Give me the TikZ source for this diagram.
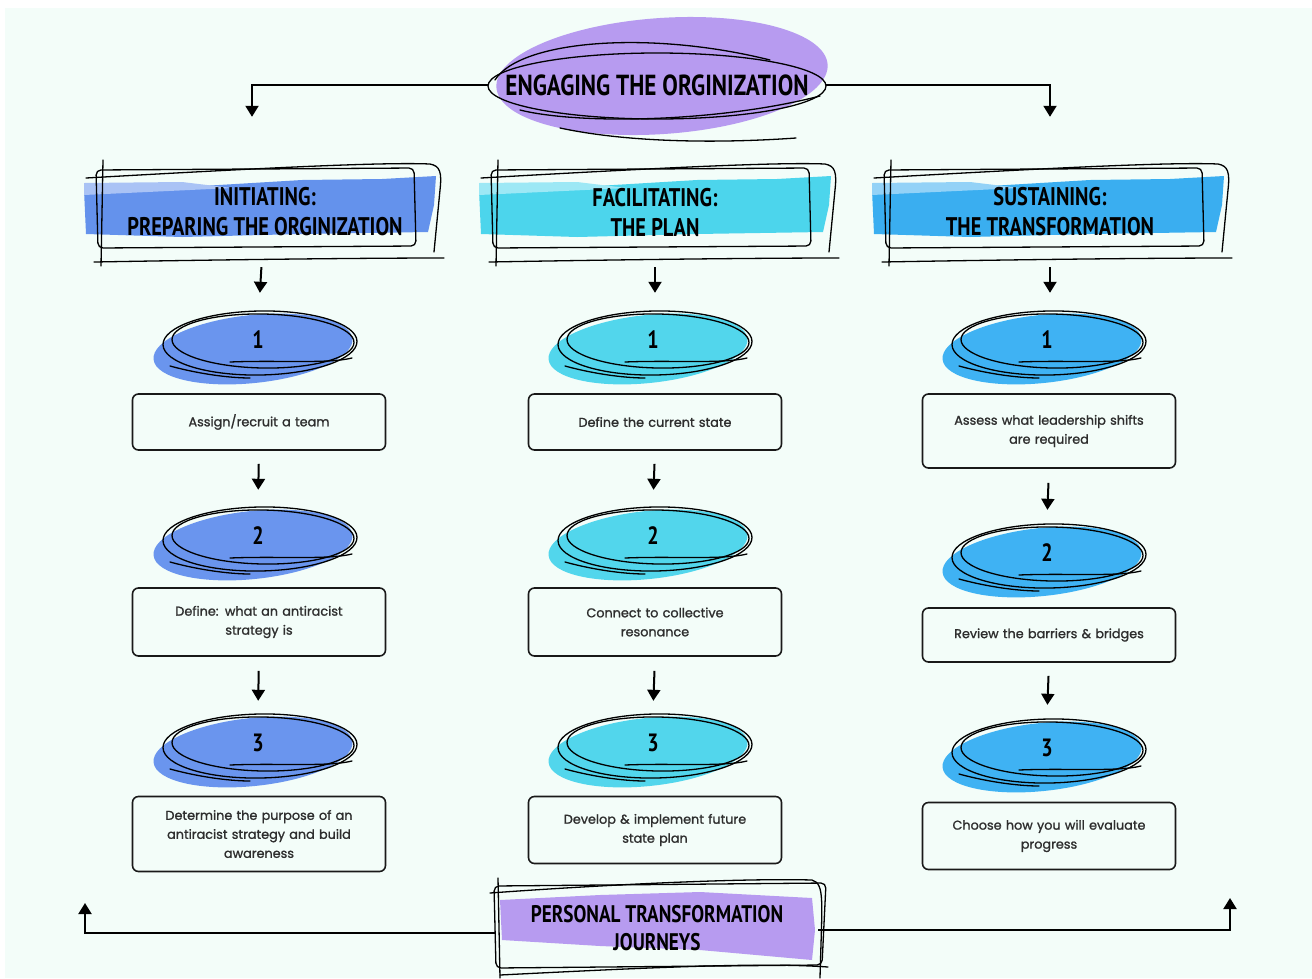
\documentclass[tikz,border=0pt]{standalone}
\usepackage{fontspec}
\setmainfont{Poppins}[FakeBold=1.3]
\newfontfamily\hand{PT Sans}[FakeStretch=0.8]
\usetikzlibrary{arrows.meta,shapes.geometric}
\definecolor{mint}{HTML}{F3FDF9}
\definecolor{cA}{HTML}{6A95EE}
\definecolor{cB}{HTML}{52D6EC}
\definecolor{cC}{HTML}{3FB2F3}
\definecolor{hA}{HTML}{6492EC}
\definecolor{hB}{HTML}{4CD5EC}
\definecolor{hC}{HTML}{3AAEF0}
\definecolor{pur}{HTML}{B79BF0}
\definecolor{txt}{HTML}{2E2E2E}
\tikzset{
  stepbox/.style={draw=black!90, rounded corners=6pt, line width=1.6pt, minimum width=253pt, align=center, text width=240pt, font=\fontsize{12.8}{19}\selectfont\color{txt}, inner sep=4pt},
  numnode/.style={ellipse, minimum width=196pt, minimum height=64pt, font=\hand\bfseries\fontsize{25}{25}\selectfont},
  headnode/.style={rectangle, minimum width=340pt, minimum height=90pt, align=center, font=\hand\bfseries\fontsize{25.5}{30}\selectfont},
  arr/.style={-{Triangle[length=11pt,width=13pt]}, line width=2pt},
  sk/.style={line width=1.3pt, line cap=round}
}
\newcommand\blobdeco[3]{%
  \begin{scope}[shift={(#1,#2)}]
    \fill[#3] (-5,9) ellipse [x radius=100, y radius=34, rotate=6];
    \draw[sk] (2,3) ellipse [x radius=97, y radius=32, rotate=1];
    \draw[sk] (5,1) ellipse [x radius=91, y radius=27, rotate=-1];
    \draw[sk] (-28,22) .. controls (20,20) and (70,24) .. (94,18);
    \draw[sk] (-88,26) .. controls (-55,35) and (-25,38) .. (-8,38);
  \end{scope}}
\newcommand\headdeco[3]{%
  \begin{scope}[shift={(#1,0)}]
    \fill[#2] (-178,190) -- (-140,184) -- (-60,186) -- (40,180) -- (120,179) -- (174,176) -- (172,205) -- (166,232) -- (40,234) -- (-80,237) -- (-176,234) -- cycle;
    \fill[#3] (-178,183) -- (-80,182) -- (-30,188) -- (-178,195) -- cycle;
    \draw[sk, rounded corners=5pt] (-166,170) -- (152,168) -- (154,246) -- (-164,248) -- cycle;
    \draw[sk] (-176,178) .. controls (0,168) and (120,162) .. (168,164) .. controls (178,166) and (180,172) .. (178,190) -- (172,252);
    \draw[sk] (-168,262) .. controls (0,259) and (120,258) .. (182,258);
    \draw[sk] (-159,160) -- (-161,266);
  \end{scope}}
\begin{document}
\begin{tikzpicture}[x=1pt,y=-1pt]
\useasboundingbox (0,0) rectangle (1312,978);
\fill[white] (0,0) rectangle (1312,978);
\fill[mint] (5,8) rectangle (1312,978);

% ---------- top title ----------
\fill[pur] (662,76) ellipse [x radius=166, y radius=58, rotate=4];
\draw[sk] (657,86) ellipse [x radius=169, y radius=33];
\draw[sk] (495,80) .. controls (520,40) and (650,30) .. (770,60);
\draw[sk] (520,110) .. controls (580,125) and (720,122) .. (820,96);
\draw[sk] (560,128) .. controls (640,145) and (740,142) .. (796,138);
\node[rectangle, inner sep=0pt, minimum width=338pt, minimum height=66pt, font=\hand\bfseries\fontsize{29}{29}\selectfont] (top) at (657,85) {ENGAGING THE ORGINIZATION};

% ---------- headers ----------
\headdeco{262}{hA}{hA!55!white}
\headdeco{657}{hB}{hB!55!white}
\headdeco{1050}{hC}{hC!55!white}
\node[headnode] (h1) at (265,212) {INITIATING:\\PREPARING THE ORGINIZATION};
\node[headnode] (h2) at (655,212) {FACILITATING:\\THE PLAN};
\node[headnode] (h3) at (1050,212) {SUSTAINING:\\THE TRANSFORMATION};

\draw[arr, shorten >=50pt] (top.west) -| ([xshift=-13pt]h1.north);
\draw[arr, shorten >=50pt] (top.east) -| (h3.north);

% ---------- column 1 ----------
\blobdeco{258}{340}{cA}
\blobdeco{258}{536}{cA}
\blobdeco{258}{743}{cA}
\node[numnode] (e11) at (258,340) {1};
\node[numnode] (e12) at (258,536) {2};
\node[numnode] (e13) at (258,743) {3};
\node[stepbox, minimum height=56pt] (b11) at (259,422) {Assign/recruit a team};
\node[stepbox, minimum height=68pt] (b12) at (259,622) {Define: what an antiracist\\strategy is};
\node[stepbox, minimum height=75pt] (b13) at (259,834) {Determine the purpose of an\\antiracist strategy and build\\awareness};

% ---------- column 2 ----------
\blobdeco{653}{340}{cB}
\blobdeco{653}{536}{cB}
\blobdeco{653}{743}{cB}
\node[numnode] (e21) at (653,340) {1};
\node[numnode] (e22) at (653,536) {2};
\node[numnode] (e23) at (653,743) {3};
\node[stepbox, minimum height=56pt] (b21) at (655,422) {Define the current state};
\node[stepbox, minimum height=68pt] (b22) at (655,622) {Connect to collective\\resonance};
\node[stepbox, minimum height=67pt] (b23) at (655,830) {Develop \& implement future\\state plan};

% ---------- column 3 ----------
\blobdeco{1047}{340}{cC}
\blobdeco{1047}{553}{cC}
\blobdeco{1047}{748}{cC}
\node[numnode] (e31) at (1047,340) {1};
\node[numnode] (e32) at (1047,553) {2};
\node[numnode] (e33) at (1047,748) {3};
\node[stepbox, minimum height=74pt] (b31) at (1049,431) {Assess what leadership shifts\\are required};
\node[stepbox, minimum height=54pt] (b32) at (1049,635) {Review the barriers \& bridges};
\node[stepbox, minimum height=67pt] (b33) at (1049,836) {Choose how you will evaluate\\progress};

% ---------- vertical arrows ----------
\draw[arr, shorten <=10pt, shorten >=15pt] ([xshift=-3pt]h1.south) -- ([xshift=1pt]e11.north);
\draw[arr, shorten <=10pt, shorten >=15pt] (h2.south) -- ([xshift=2pt]e21.north);
\draw[arr, shorten <=10pt, shorten >=15pt] (h3.south) -- ([xshift=3pt]e31.north);
\draw[arr, shorten <=13pt, shorten >=14pt] (b11.south) -- (e12.north);
\draw[arr, shorten <=14pt, shorten >=10pt] (b12.south) -- (e13.north);
\draw[arr, shorten <=13pt, shorten >=14pt] (b21.south) -- (e22.north);
\draw[arr, shorten <=14pt, shorten >=10pt] (b22.south) -- (e23.north);
\draw[arr, shorten <=14pt, shorten >=11pt] (b31.south) -- (e32.north);
\draw[arr, shorten <=13pt, shorten >=11pt] (b32.south) -- (e33.north);

% ---------- bottom ----------
\fill[pur] (500,900) -- (600,895) -- (700,892) -- (812,898) -- (815,930) -- (812,960) -- (700,950) -- (600,946) -- (502,940) -- cycle;
\draw[sk] (490,893) .. controls (600,885) and (740,878) .. (812,880) .. controls (825,884) and (822,900) .. (820,978);
\draw[sk, rounded corners=5pt] (494,886) -- (826,883) -- (822,965) -- (496,968) -- cycle;
\draw[sk] (500,975) .. controls (640,968) and (760,962) .. (828,967);
\draw[sk] (498,878) -- (500,978);
\node[rectangle, minimum width=322pt, minimum height=76pt, align=center, font=\hand\bfseries\fontsize{24}{28}\selectfont] (bot) at (657,928) {PERSONAL TRANSFORMATION\\JOURNEYS};
\coordinate (bl) at (85,903);
\coordinate (br) at (1230,898);
\draw[arr] ([yshift=-5pt]bot.west) -| (bl);
\draw[arr] ([yshift=-2pt]bot.east) -| (br);
\end{tikzpicture}
\end{document}
